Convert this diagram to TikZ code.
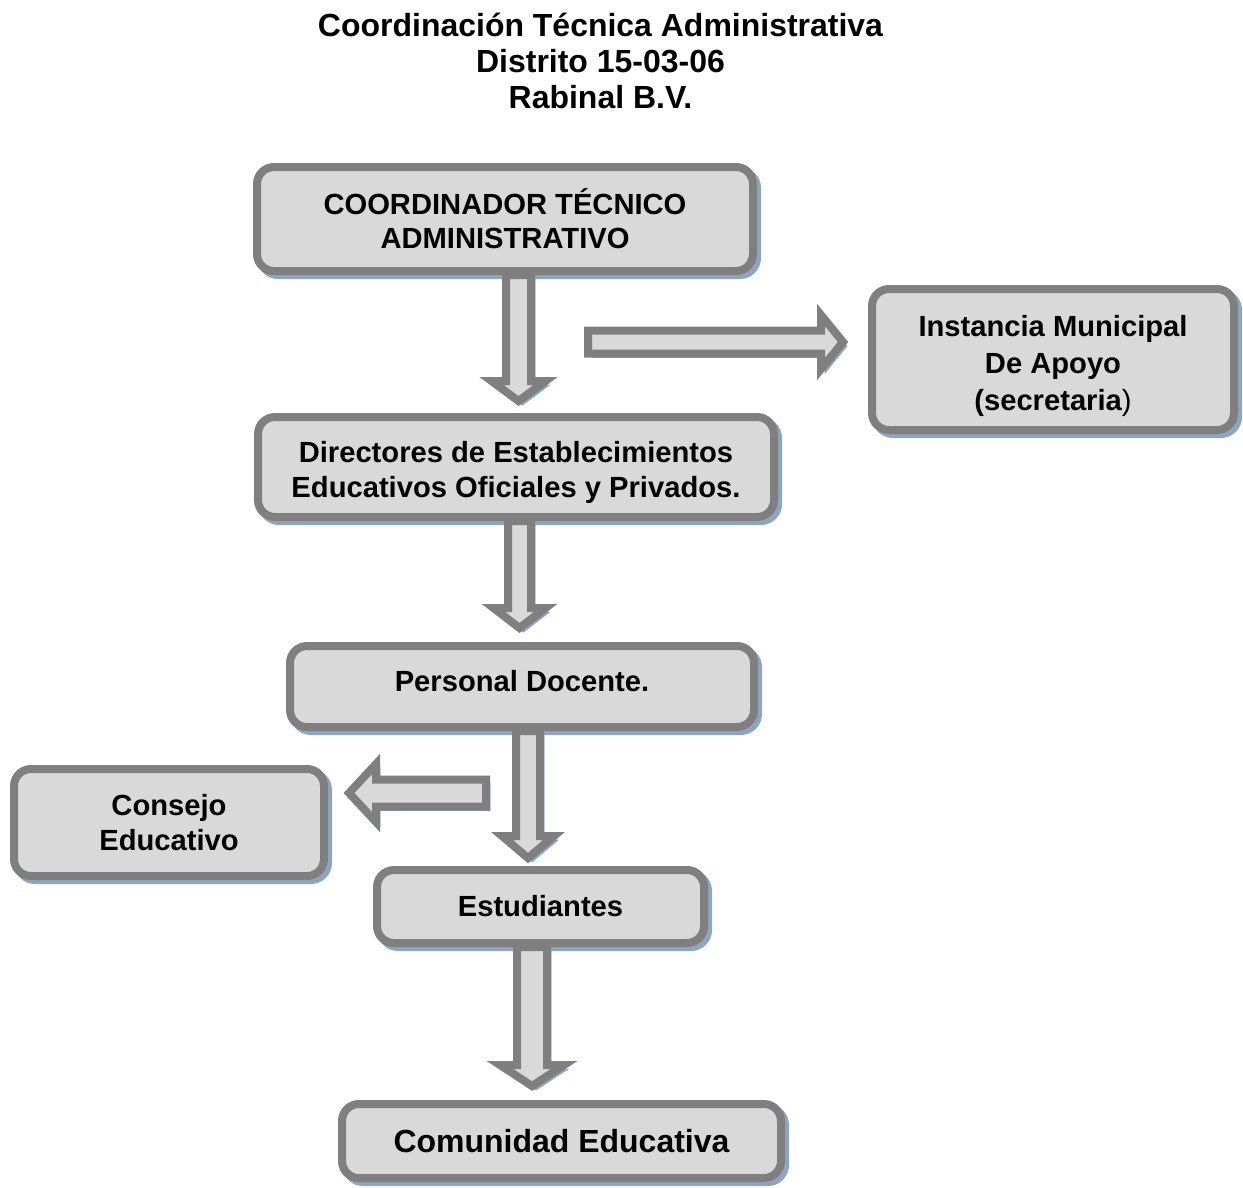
\documentclass[tikz,border=0pt]{standalone}
\usepackage{fontspec}
\setmainfont{Liberation Sans}
\usetikzlibrary{calc}

\definecolor{boxline}{HTML}{7F7F7F}
\definecolor{boxfill}{HTML}{D9D9D9}
\definecolor{boxshade}{HTML}{8EA5C2}
\newdimen\pxu \pxu=0.02cm

\tikzset{
    bluedrop/.style = {preaction = {draw = boxshade, fill = boxshade, transform canvas = {shift = {(4\pxu, -4\pxu)}}}},
    box/.style = {bluedrop, draw = boxline, fill = boxfill, line width = 8\pxu, rounded corners = 17\pxu,
        align = center, inner sep = 0pt, font = \fontsize{16.6}{19.5}\selectfont\bfseries},
    % block arrows: shaft half width, head half width, head length (px)
    vblock/.style n args = {3}{bluedrop, draw = boxline, fill = boxfill, line width = 8\pxu,
        to path = {let \p1 = (\tikztostart), \p2 = (\tikztotarget) in
            (\x1-#1*\pxu, \y1) -- (\x1-#1*\pxu, \y2+#3*\pxu) -- (\x1-#2*\pxu, \y2+#3*\pxu) -- (\x1, \y2)
            -- (\x1+#2*\pxu, \y2+#3*\pxu) -- (\x1+#1*\pxu, \y2+#3*\pxu) -- (\x1+#1*\pxu, \y1) -- cycle}},
    hblock/.style n args = {3}{bluedrop, draw = boxline, fill = boxfill, line width = 8\pxu,
        to path = {let \p1 = (\tikztostart), \p2 = (\tikztotarget), \n1 = {sign(\x2-\x1)} in
            (\x1, \y1+#1*\pxu) -- (\x2-\n1*#3*\pxu, \y1+#1*\pxu) -- (\x2-\n1*#3*\pxu, \y1+#2*\pxu) -- (\x2, \y1)
            -- (\x2-\n1*#3*\pxu, \y1-#2*\pxu) -- (\x2-\n1*#3*\pxu, \y1-#1*\pxu) -- (\x1, \y1-#1*\pxu) -- cycle}}
}

\begin{document}
\begin{tikzpicture}[x = 0.02cm, y = -0.02cm]
    \useasboundingbox (0, 0) rectangle (1243, 1187);

    \node[align = center, inner sep = 0pt, font = \fontsize{18.2}{20.5}\selectfont\bfseries] (title) at (600.5, 61)
        {Coordinación Técnica Administrativa\\Distrito 15-03-06\\Rabinal B.V.};

    \node[box, minimum width = 496\pxu, minimum height = 104\pxu] (coord) at (505, 219)
        {COORDINADOR TÉCNICO\\ADMINISTRATIVO};
    \node[box, minimum width = 362\pxu, minimum height = 141\pxu, text height = 61.6pt,
        font = \fontsize{16.6}{21}\selectfont\bfseries] (inst) at (1053, 359.5)
        {Instancia Municipal\\De Apoyo\\(secretaria{\mdseries)}};
    \node[box, minimum width = 516\pxu, minimum height = 100\pxu, text height = 37.6pt] (dir) at (516, 467)
        {Directores de Establecimientos\\Educativos Oficiales y Privados.};
    \node[box, minimum width = 464\pxu, minimum height = 81\pxu, text depth = 6.2pt] (doc) at (522, 686.5)
        {Personal Docente.};
    \node[box, minimum width = 310\pxu, minimum height = 107\pxu] (cons) at (169, 822.5) {Consejo\\Educativo};
    \node[box, minimum width = 327\pxu, minimum height = 73\pxu] (est) at (540.5, 906.5) {Estudiantes};
    \node[box, minimum width = 439\pxu, minimum height = 74\pxu, font = \fontsize{18.2}{21}\selectfont\bfseries]
        (com) at (561.5, 1141) {Comunidad Educativa};

    \coordinate (tip1) at (518.5, 401);
    \coordinate (tip2) at (519.5, 628);
    \coordinate (tip3) at (528, 858);
    \coordinate (tip4) at (532, 1086);
    \coordinate (rgt0) at (588, 342);
    \coordinate (rgt1) at (843, 342);
    \coordinate (lft0) at (486, 793);
    \coordinate (lft1) at (349, 793);

    \draw[vblock = {12.5}{27}{20}] (coord.south -| tip1) to (tip1);
    \draw[hblock = {11.5}{27}{22}] (rgt0) to (rgt1);
    \draw[vblock = {11.5}{26}{20}] (dir.south -| tip2) to (tip2);
    \draw[vblock = {12}{26}{22}] (doc.south -| tip3) to (tip3);
    \draw[hblock = {13.5}{29}{27}] (lft0) to (lft1);
    \draw[vblock = {15}{32}{21}] (est.south -| tip4) to (tip4);
\end{tikzpicture}
\end{document}
